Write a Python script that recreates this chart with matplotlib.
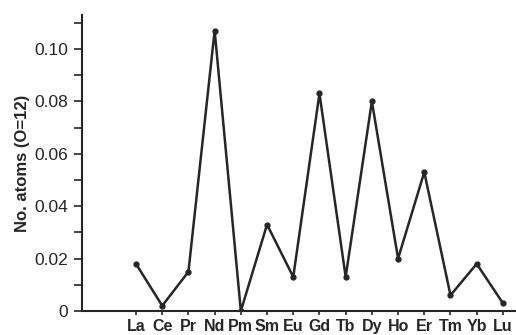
import numpy as np
import matplotlib.pyplot as plt
from matplotlib.ticker import MultipleLocator

elements = ['La', 'Ce', 'Pr', 'Nd', 'Pm', 'Sm', 'Eu', 'Gd', 'Tb', 'Dy',
            'Ho', 'Er', 'Tm', 'Yb', 'Lu']
atoms = [0.018, 0.002, 0.015, 0.107, 0.0, 0.033, 0.013, 0.083, 0.013, 0.080,
         0.020, 0.053, 0.006, 0.018, 0.003]
yticks = [0, 0.02, 0.04, 0.06, 0.08, 0.10]
ylabels = ['0', '0.02', '0.04', '0.06', '0.08', '0.10']

plt.rcParams['font.family'] = ['Liberation Sans', 'DejaVu Sans']
ink = '#262626'

fig = plt.figure(figsize=(5.16, 3.35), dpi=100)
ax = fig.add_axes([0.159, 0.0716, 0.841, 0.884])

x = np.arange(len(elements))
ax.plot(x, atoms, '-o', color=ink, lw=1.8, ms=3.5)

ax.set_xlim(-2.06, 14.5)
ax.set_ylim(0, 0.113)
ax.set_xticks(x)
ax.set_xticklabels(elements, fontsize=11.5, fontweight='bold', color=ink)
ax.set_yticks(yticks)
ax.set_yticklabels(ylabels, fontsize=12.5, color=ink)
ax.yaxis.set_minor_locator(MultipleLocator(0.01))
ax.tick_params(axis='y', which='both', direction='out', length=6, width=1.2,
               color=ink, pad=4)
ax.tick_params(axis='x', direction='out', length=3, width=1.2, color=ink, pad=3)
ax.set_ylabel('No. atoms (O=12)', fontsize=12, fontweight='bold', color=ink,
              labelpad=3)

for s in ['top', 'right']:
    ax.spines[s].set_visible(False)
for s in ['left', 'bottom']:
    ax.spines[s].set_linewidth(1.5)
    ax.spines[s].set_color(ink)

fig.savefig('out.png', dpi=100)
